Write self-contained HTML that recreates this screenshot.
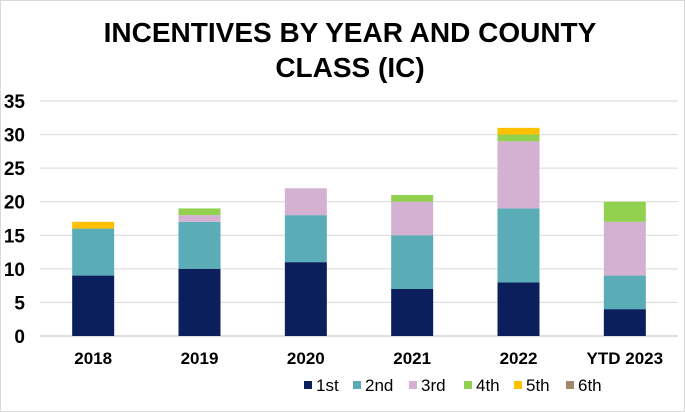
<!DOCTYPE html>
<html><head><meta charset="utf-8"><style>
body{margin:0;background:#fff;width:685px;height:412px;overflow:hidden;font-family:"Liberation Sans",Arial,sans-serif;}
</style></head><body>
<svg width="685" height="412" style="position:absolute;left:0;top:0">
<rect x="0.5" y="0.5" width="684" height="411" fill="#fff" stroke="#d9d9d9"/>
<text x="350" y="42" text-anchor="middle" font-weight="bold" font-size="28" fill="#000">INCENTIVES BY YEAR AND COUNTY</text>
<text x="350" y="77" text-anchor="middle" font-weight="bold" font-size="28" fill="#000">CLASS (IC)</text>
<g id="grid"></g><g id="bars"></g><g id="legend"></g>
</svg>
<script>
const categories=["2018","2019","2020","2021","2022","YTD 2023"];
const seriesNames=["1st","2nd","3rd","4th","5th","6th"];
const s1st=[9,10,11,7,8,4];
const s2nd=[7,7,7,8,11,5];
const s3rd=[0,1,4,5,10,8];
const s4th=[0,1,0,1,1,3];
const s5th=[1,0,0,0,1,0];
const s6th=[0,0,0,0,0,0];
const yTicks=[0,5,10,15,20,25,30,35];
const series=[s1st,s2nd,s3rd,s4th,s5th,s6th];
const colors=["#0a1f5c","#5aacb6","#d4b0d2","#92d050","#ffc000","#a08a6b"];
const NS="http://www.w3.org/2000/svg";
const x0=40,x1=678,y0=336,yTop=101,yMax=35;
const y=v=>y0-(v/yMax)*(y0-yTop);
const band=(x1-x0)/categories.length;
const xc=i=>x0+band*(i+0.5);
function mk(t,a,p){const e=document.createElementNS(NS,t);for(const k in a)e.setAttribute(k,a[k]);p.appendChild(e);return e;}
const grid=document.getElementById('grid');
yTicks.forEach(v=>{
 const l=mk('line',{x1:x0,x2:x1,y1:y(v),y2:y(v),stroke:v===0?'#bfbfbf':'#d9d9d9','stroke-width':1},grid);
 
 
 const t=mk('text',{x:25,y:y(v)+7,'text-anchor':'end','font-size':19,'font-weight':'bold',fill:'#000'},grid);
 t.textContent=v;
 
 
});
const bars=document.getElementById('bars');
categories.forEach((c,i)=>{
 let acc=0;
 series.forEach((s,j)=>{
  const v=s[i]; if(!v)return;
  const r=mk('rect',{x:xc(i)-21,width:42,y:y(acc+v),height:y(acc)-y(acc+v),fill:colors[j]},bars);
  
  
  acc+=v;
 });
 const t=mk('text',{x:xc(i),y:364,'text-anchor':'middle','font-size':17,'font-weight':'bold',fill:'#000'},bars);
 t.textContent=c;
 
 
});
const leg=document.getElementById('legend');
const lx=[304,353,409,464,514,566];
seriesNames.forEach((n,j)=>{
 const g=mk('g',{},leg);
 
 
 mk('rect',{x:lx[j],y:381,width:8,height:8,fill:colors[j]},g);
 const t=mk('text',{x:lx[j]+12,y:391,'font-size':17,fill:'#000'},g);
 t.textContent=n;
});
</script>
</body></html>
